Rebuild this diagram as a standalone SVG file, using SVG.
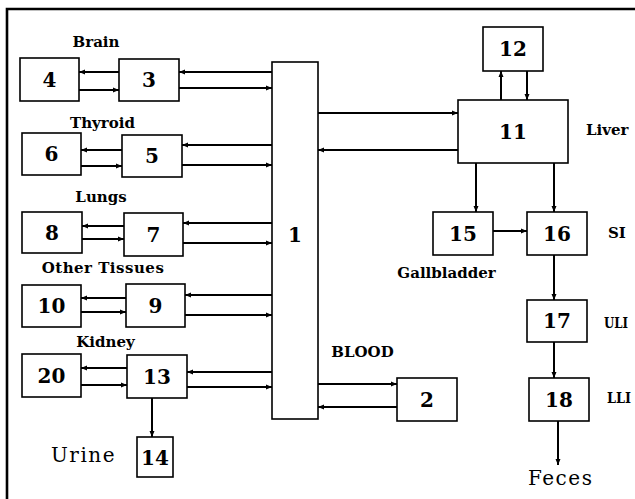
<svg xmlns="http://www.w3.org/2000/svg" width="635" height="499" viewBox="0 0 635 499">
<style>
.box{fill:#fff;stroke:#000;stroke-width:1.6}
.num{font-family:"DejaVu Serif",serif;font-weight:bold;font-size:20px;text-anchor:middle}
.lbl{font-family:"DejaVu Serif",serif;font-weight:bold;font-size:15px}
.big{font-family:"DejaVu Serif",serif;font-size:20px;letter-spacing:1.5px}
.c{fill:none;stroke:#000;stroke-width:2;marker-end:url(#ah)}
</style>
<defs>
<marker id="ah" markerUnits="userSpaceOnUse" markerWidth="7" markerHeight="6" refX="6" refY="3" orient="auto">
<path d="M0,0.5 L6,3 L0,5.5 Z" fill="#000"/>
</marker>
</defs>
<rect width="635" height="499" fill="#fff"/>
<path d="M7,499 V9 H635" fill="none" stroke="#000" stroke-width="2.6"/>
<g id="connectors">
<line class="c" x1="119" y1="72" x2="79" y2="72"/>
<line class="c" x1="79" y1="90" x2="119" y2="90"/>
<line class="c" x1="272" y1="72" x2="179" y2="72"/>
<line class="c" x1="179" y1="88" x2="272" y2="88"/>
<line class="c" x1="122" y1="150" x2="81" y2="150"/>
<line class="c" x1="81" y1="166" x2="122" y2="166"/>
<line class="c" x1="272" y1="145" x2="182" y2="145"/>
<line class="c" x1="182" y1="165" x2="272" y2="165"/>
<line class="c" x1="124" y1="226" x2="82" y2="226"/>
<line class="c" x1="82" y1="239" x2="124" y2="239"/>
<line class="c" x1="272" y1="223" x2="183" y2="223"/>
<line class="c" x1="183" y1="243" x2="272" y2="243"/>
<line class="c" x1="126" y1="298" x2="81" y2="298"/>
<line class="c" x1="81" y1="312" x2="126" y2="312"/>
<line class="c" x1="272" y1="295" x2="185" y2="295"/>
<line class="c" x1="185" y1="315" x2="272" y2="315"/>
<line class="c" x1="127" y1="368" x2="81" y2="368"/>
<line class="c" x1="81" y1="385" x2="127" y2="385"/>
<line class="c" x1="272" y1="372" x2="187" y2="372"/>
<line class="c" x1="187" y1="387" x2="272" y2="387"/>
<line class="c" x1="152" y1="398" x2="152" y2="437"/>
<line class="c" x1="318" y1="384" x2="397" y2="384"/>
<line class="c" x1="397" y1="407" x2="318" y2="407"/>
<line class="c" x1="318" y1="113" x2="458" y2="113"/>
<line class="c" x1="458" y1="150" x2="318" y2="150"/>
<line class="c" x1="501" y1="100" x2="501" y2="71"/>
<line class="c" x1="527" y1="71" x2="527" y2="100"/>
<line class="c" x1="476" y1="163" x2="476" y2="212"/>
<line class="c" x1="554" y1="163" x2="554" y2="212"/>
<line class="c" x1="493" y1="231" x2="527" y2="231"/>
<line class="c" x1="554" y1="255" x2="554" y2="300"/>
<line class="c" x1="554" y1="342" x2="554" y2="378"/>
<line class="c" x1="558" y1="421" x2="558" y2="465"/>
</g>
<g id="n1"><rect class="box" x="272" y="62" width="46" height="357"/><text class="num" x="295" y="242">1</text></g>
<g id="n2"><rect class="box" x="397" y="378" width="60" height="43"/><text class="num" x="427" y="407">2</text></g>
<g id="n3"><rect class="box" x="119" y="59" width="60" height="42"/><text class="num" x="149" y="87">3</text></g>
<g id="n4"><rect class="box" x="20" y="58" width="59" height="43"/><text class="num" x="49.5" y="87">4</text></g>
<g id="n5"><rect class="box" x="122" y="135" width="60" height="42"/><text class="num" x="152" y="163">5</text></g>
<g id="n6"><rect class="box" x="22" y="133" width="59" height="42"/><text class="num" x="51.5" y="161">6</text></g>
<g id="n7"><rect class="box" x="124" y="213" width="59" height="43"/><text class="num" x="153.5" y="242">7</text></g>
<g id="n8"><rect class="box" x="22" y="212" width="60" height="41"/><text class="num" x="52" y="240">8</text></g>
<g id="n9"><rect class="box" x="126" y="284" width="59" height="43"/><text class="num" x="155.5" y="313">9</text></g>
<g id="n10"><rect class="box" x="22" y="285" width="59" height="42"/><text class="num" x="51.5" y="313">10</text></g>
<g id="n11"><rect class="box" x="458" y="100" width="110" height="63"/><text class="num" x="513" y="139">11</text></g>
<g id="n12"><rect class="box" x="483" y="27" width="60" height="44"/><text class="num" x="513" y="56">12</text></g>
<g id="n13"><rect class="box" x="127" y="355" width="60" height="43"/><text class="num" x="157" y="384">13</text></g>
<g id="n14"><rect class="box" x="137" y="437" width="36" height="40"/><text class="num" x="155" y="465">14</text></g>
<g id="n15"><rect class="box" x="433" y="212" width="60" height="43"/><text class="num" x="463" y="241">15</text></g>
<g id="n16"><rect class="box" x="527" y="212" width="60" height="43"/><text class="num" x="557" y="241">16</text></g>
<g id="n17"><rect class="box" x="527" y="300" width="60" height="42"/><text class="num" x="557" y="328">17</text></g>
<g id="n18"><rect class="box" x="529" y="378" width="60" height="43"/><text class="num" x="559" y="407">18</text></g>
<g id="n20"><rect class="box" x="22" y="354" width="59" height="43"/><text class="num" x="51.5" y="383">20</text></g>
<g id="labels">
<text class="lbl" x="96" y="47" text-anchor="middle">Brain</text>
<text class="lbl" x="102.5" y="128" text-anchor="middle">Thyroid</text>
<text class="lbl" x="101" y="202" text-anchor="middle">Lungs</text>
<text class="lbl" x="103" y="273" text-anchor="middle" letter-spacing="0.5">Other Tissues</text>
<text class="lbl" x="105.5" y="347" text-anchor="middle">Kidney</text>
<text class="big" x="51" y="462">Urine</text>
<text class="lbl" x="446.5" y="278" text-anchor="middle">Gallbladder</text>
<text class="lbl" x="586" y="135">Liver</text>
<text class="lbl" x="608" y="238">SI</text>
<text class="lbl" x="604" y="328" font-size="14" textLength="24" lengthAdjust="spacingAndGlyphs">ULI</text>
<text class="lbl" x="607" y="403" font-size="14" textLength="24" lengthAdjust="spacingAndGlyphs">LLI</text>
<text class="lbl" x="362.5" y="357" text-anchor="middle" font-size="14">BLOOD</text>
<text class="big" x="528" y="485">Feces</text>
</g>
</svg>
